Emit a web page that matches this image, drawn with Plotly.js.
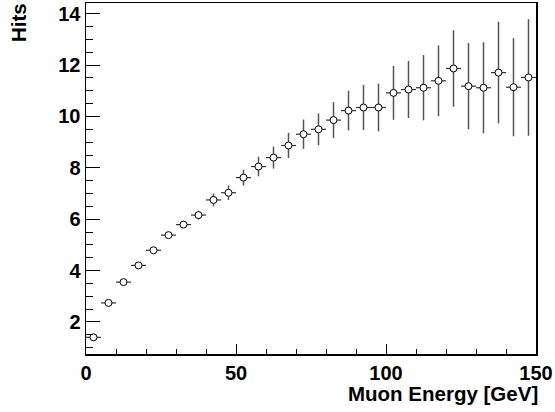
<!DOCTYPE html>
<html>
<head>
<meta charset="utf-8">
<script src="https://cdn.plot.ly/plotly-3.0.1.min.js"></script>
<style>html,body{margin:0;padding:0;background:#fff;}#chart{width:555px;height:412px;}</style>
</head>
<body>
<div id="chart"></div>
<script>
const energy = [2.5, 7.5, 12.5, 17.5, 22.5, 27.5, 32.5, 37.5, 42.5, 47.5,
                52.5, 57.5, 62.5, 67.5, 72.5, 77.5, 82.5, 87.5, 92.5, 97.5,
                102.5, 107.5, 112.5, 117.5, 122.5, 127.5, 132.5, 137.5, 142.5, 147.5];
const hits = [1.40, 2.74, 3.55, 4.20, 4.79, 5.38, 5.79, 6.16, 6.75, 7.03,
              7.62, 8.05, 8.40, 8.87, 9.31, 9.50, 9.86, 10.23, 10.35, 10.35,
              10.92, 11.05, 11.12, 11.39, 11.87, 11.18, 11.12, 11.71, 11.14, 11.52];
const hitsErr = [0.03, 0.04, 0.05, 0.06, 0.08, 0.10, 0.13, 0.17, 0.25, 0.28,
                 0.31, 0.38, 0.43, 0.49, 0.57, 0.62, 0.70, 0.77, 0.88, 0.93,
                 1.05, 1.11, 1.27, 1.38, 1.49, 1.68, 1.77, 1.98, 1.91, 2.27];
const binHalfWidth = 2.5;
const xTitle = "Muon Energy [GeV]";
const yTitle = "Hits";

const font = {family: "Liberation Sans, Arial, sans-serif", size: 20, color: "#000", weight: "bold"};
const titleFont = {family: "Liberation Sans, Arial, sans-serif", size: 20.5, color: "#000", weight: "bold"};

const trace = {
  x: energy, y: hits, type: "scatter", mode: "markers",
  marker: {symbol: "circle", size: 7, color: "#fff", line: {color: "#000", width: 1}},
  error_y: {type: "data", array: hitsErr, visible: true, width: 0, thickness: 1.5, color: "#555"},
  error_x: {type: "constant", value: binHalfWidth, visible: true, width: 0, thickness: 1.2, color: "#333"},
  hoverinfo: "skip"
};

const layout = {
  width: 555, height: 412,
  margin: {l: 86, r: 19, t: 3, b: 58},
  paper_bgcolor: "#fff", plot_bgcolor: "#fff",
  showlegend: false,
  font: font,
  xaxis: {
    range: [0, 150], dtick: 50, tick0: 0,
    showgrid: false, zeroline: false,
    showline: true, mirror: true, linecolor: "#000", linewidth: 1.5,
    ticks: "inside", ticklen: 10, tickwidth: 1, tickcolor: "#000",
    minor: {dtick: 10, ticks: "inside", ticklen: 5, tickcolor: "#000", tickwidth: 1},
    tickfont: font, ticklabelstandoff: 0
  },
  yaxis: {
    range: [0.75, 14.42], dtick: 2, tick0: 0,
    showgrid: false, zeroline: false,
    showline: true, mirror: true, linecolor: "#000", linewidth: 1.5,
    ticks: "inside", ticklen: 14, tickwidth: 1, tickcolor: "#000",
    minor: {dtick: 0.5, ticks: "inside", ticklen: 7, tickcolor: "#000", tickwidth: 1},
    tickfont: font
  },
  annotations: [
    {text: xTitle, xref: "paper", yref: "paper", x: 1, y: -0.09, xanchor: "right", yanchor: "top",
     xshift: 4, yshift: 6, showarrow: false, font: titleFont},
    {text: yTitle, xref: "paper", yref: "paper", x: -0.15, y: 1, xanchor: "center", yanchor: "top",
     textangle: -90, yshift: 2, showarrow: false, font: titleFont}
  ]
};

Plotly.newPlot("chart", [trace], layout, {displayModeBar: false, staticPlot: true});
</script>
</body>
</html>
